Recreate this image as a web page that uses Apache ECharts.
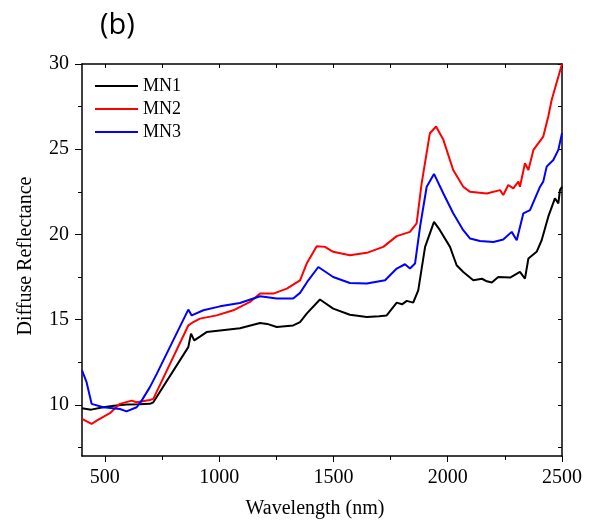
<!DOCTYPE html>
<html>
<head>
<meta charset="utf-8">
<script src="https://cdn.jsdelivr.net/npm/echarts@6/dist/echarts.min.js"></script>
<style>
  html, body { margin: 0; padding: 0; background: #fff; }
  #chart { width: 592px; height: 529px; }
</style>
</head>
<body>
<div id="chart"></div>
<script>
// wavelength (nm) and reflectance
var mn1X = [400, 440, 493, 540, 595, 650, 697, 712, 865, 877, 891, 916, 945, 1004, 1091, 1179, 1210, 1252, 1324, 1354, 1383, 1441, 1499, 1572, 1646, 1700, 1733, 1777, 1800, 1821, 1849, 1871, 1901, 1940, 1966, 2010, 2039, 2068, 2112, 2150, 2171, 2193, 2221, 2273, 2316, 2338, 2353, 2389, 2411, 2440, 2469, 2484, 2491, 2500];
var mn1Y = [9.8, 9.72, 9.86, 9.95, 10.02, 10.04, 10.06, 10.15, 13.39, 14.18, 13.78, 14.0, 14.27, 14.37, 14.5, 14.8, 14.75, 14.57, 14.66, 14.86, 15.35, 16.18, 15.65, 15.29, 15.15, 15.2, 15.25, 16.0, 15.9, 16.1, 16.0, 16.72, 19.27, 20.74, 20.25, 19.27, 18.19, 17.8, 17.31, 17.4, 17.25, 17.18, 17.5, 17.47, 17.8, 17.41, 18.59, 18.98, 19.66, 21.04, 22.12, 21.82, 22.6, 22.8];

var mn2X = [400, 442, 464, 522, 566, 617, 639, 697, 712, 865, 887, 916, 989, 1062, 1135, 1179, 1237, 1296, 1354, 1383, 1427, 1463, 1499, 1572, 1646, 1718, 1777, 1835, 1864, 1886, 1922, 1949, 1981, 2024, 2068, 2098, 2171, 2229, 2243, 2265, 2287, 2309, 2316, 2338, 2353, 2375, 2418, 2440, 2455, 2500];
var mn2Y = [9.18, 8.88, 9.08, 9.51, 10.06, 10.25, 10.15, 10.29, 10.35, 14.66, 14.86, 15.06, 15.25, 15.55, 16.04, 16.53, 16.53, 16.82, 17.31, 18.29, 19.31, 19.27, 18.98, 18.78, 18.92, 19.27, 19.9, 20.15, 20.65, 23.0, 25.94, 26.33, 25.55, 23.78, 22.8, 22.5, 22.4, 22.6, 22.31, 22.9, 22.7, 23.1, 22.8, 24.18, 23.78, 24.96, 25.74, 26.92, 27.9, 30.0];

var mn3X = [400, 420, 442, 493, 566, 595, 639, 661, 697, 727, 865, 880, 931, 1004, 1091, 1179, 1252, 1324, 1354, 1390, 1434, 1499, 1572, 1646, 1726, 1777, 1813, 1835, 1857, 1879, 1908, 1940, 1981, 2024, 2068, 2098, 2141, 2200, 2243, 2280, 2302, 2331, 2360, 2404, 2418, 2433, 2462, 2484, 2500];
var mn3Y = [12.02, 11.33, 10.06, 9.86, 9.76, 9.62, 9.86, 10.25, 11.04, 11.82, 15.59, 15.25, 15.55, 15.78, 15.98, 16.37, 16.24, 16.24, 16.57, 17.31, 18.09, 17.5, 17.15, 17.12, 17.31, 18.0, 18.25, 18.0, 18.29, 20.45, 22.8, 23.55, 22.4, 21.24, 20.25, 19.76, 19.62, 19.56, 19.7, 20.15, 19.66, 21.24, 21.43, 22.8, 23.1, 23.98, 24.37, 24.96, 25.94];

var xMajor = [500, 1000, 1500, 2000, 2500];
var xMinor = [750, 1250, 1750, 2250];
var yMajor = [10, 15, 20, 25, 30];
var yMinor = [7.5, 12.5, 17.5, 22.5, 27.5];

function pairs(xs, ys) {
  var out = [];
  for (var i = 0; i < xs.length; i++) out.push([xs[i], ys[i]]);
  return out;
}

var serif = 'Liberation Serif';
var chart = echarts.init(document.getElementById('chart'));

var option = {
  animation: false,
  title: {
    text: '(b)',
    left: 95,
    top: 6,
    textStyle: { fontFamily: 'Open Sans', fontWeight: 'normal', fontSize: 29, color: '#000' }
  },
  legend: {
    orient: 'vertical',
    left: 95,
    top: 77,
    padding: 0,
    icon: 'rect',
    itemWidth: 43,
    itemHeight: 2,
    itemGap: 5,
    textStyle: { fontFamily: serif, fontSize: 18, color: '#000' },
    data: ['MN1', 'MN2', 'MN3']
  },
  grid: { left: 82, right: 30, top: 64, bottom: 73 },
  xAxis: [
    {
      type: 'value', min: 400, max: 2500, position: 'bottom',
      name: 'Wavelength (nm)', nameLocation: 'middle', nameGap: 43,
      nameTextStyle: { fontFamily: serif, fontSize: 20, color: '#000', padding: [0, 14, 0, 0] },
      axisLine: { lineStyle: { color: '#000', width: 1.5 } },
      axisTick: { length: 6, lineStyle: { color: '#000' }, customValues: xMajor },
      axisLabel: {
        margin: 12, fontFamily: serif, fontSize: 20, color: '#000', customValues: xMajor,
        formatter: function (v) { return String(v); }
      },
      splitLine: { show: false }
    },
    {
      type: 'value', min: 400, max: 2500, position: 'bottom',
      axisLine: { show: false },
      axisTick: { length: 4, lineStyle: { color: '#000' }, customValues: xMinor },
      axisLabel: { show: false },
      splitLine: { show: false }
    },
    {
      type: 'value', min: 400, max: 2500, position: 'top',
      axisLine: { lineStyle: { color: '#000', width: 1.5 } },
      axisTick: { inside: true, length: 4, lineStyle: { color: '#000' }, customValues: xMajor.concat(xMinor) },
      axisLabel: { show: false },
      splitLine: { show: false }
    }
  ],
  yAxis: [
    {
      type: 'value', min: 7, max: 30, position: 'left',
      name: 'Diffuse Reflectance', nameLocation: 'middle', nameGap: 46,
      nameTextStyle: { fontFamily: serif, fontSize: 20, color: '#000', padding: [0, 0, 0, 8] },
      axisLine: { lineStyle: { color: '#000', width: 1.5 } },
      axisTick: { length: 7, lineStyle: { color: '#000' }, customValues: yMajor },
      axisLabel: { margin: 13, fontFamily: serif, fontSize: 20, color: '#000', customValues: yMajor },
      splitLine: { show: false }
    },
    {
      type: 'value', min: 7, max: 30, position: 'left',
      axisLine: { show: false },
      axisTick: { length: 4, lineStyle: { color: '#000' }, customValues: yMinor },
      axisLabel: { show: false },
      splitLine: { show: false }
    },
    {
      type: 'value', min: 7, max: 30, position: 'right',
      axisLine: { lineStyle: { color: '#000', width: 1.5 } },
      axisTick: { inside: true, length: 4, lineStyle: { color: '#000' }, customValues: yMajor.concat(yMinor) },
      axisLabel: { show: false },
      splitLine: { show: false }
    }
  ],
  series: [
    { name: 'MN1', type: 'line', symbol: 'none', color: '#000000', lineStyle: { width: 2 }, data: pairs(mn1X, mn1Y) },
    { name: 'MN2', type: 'line', symbol: 'none', color: '#ff0000', lineStyle: { width: 2 }, data: pairs(mn2X, mn2Y) },
    { name: 'MN3', type: 'line', symbol: 'none', color: '#0000ff', lineStyle: { width: 2 }, data: pairs(mn3X, mn3Y) }
  ]
};

chart.setOption(option);
</script>
</body>
</html>
